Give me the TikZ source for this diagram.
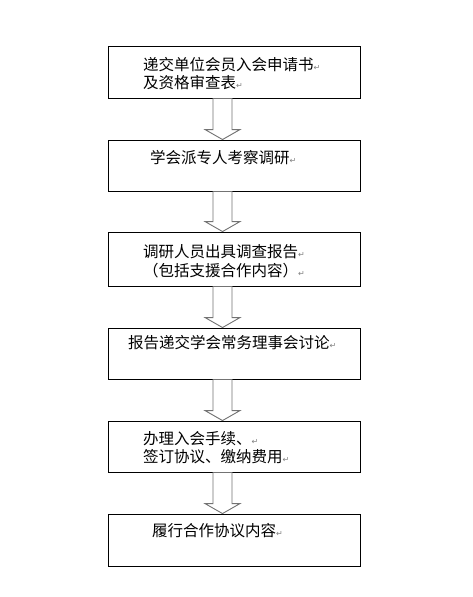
\documentclass[tikz,border=0pt]{standalone}
\usepackage{fontspec}
\newfontfamily\cjk{Noto Sans CJK SC}
\newfontfamily\symfont{DejaVu Sans}
\usetikzlibrary{calc}
\newcommand\pmark{\textcolor{gray}{\symfont\fontsize{8}{8}\selectfont ↵}}
\tikzset{
  x=1pt,y=-1pt,
  stepbox/.style={draw=black,line width=0.9pt,fill=white,minimum width=252pt,inner sep=0pt},
  txt/.style={anchor=west,inner sep=0pt,align=left,font=\cjk\fontsize{15.5}{18.5}\selectfont},
  blk/.style={draw=gray!90!black,line width=0.9pt,fill=white},
}
\newcommand\blkarrow[2]{%
  \draw[blk] let \p1=(#1.south), \p2=(#2.north), \n1={\x1-11.5pt} in
    (\n1-9.5pt,\y1) -- (\n1-9.5pt,\y2+10pt) -- (\n1-17.5pt,\y2+10pt) -- (\n1,\y2)
    -- (\n1+17.5pt,\y2+10pt) -- (\n1+9.5pt,\y2+10pt) -- (\n1+9.5pt,\y1) -- cycle;}
\begin{document}
\begin{tikzpicture}
\useasboundingbox[fill=white] (0,0) rectangle (473,597);
\node[stepbox,minimum height=52pt] (b1) at (234,72) {};
\node[stepbox,minimum height=51pt] (b2) at (234,165.5) {};
\node[stepbox,minimum height=54pt] (b3) at (234,259) {};
\node[stepbox,minimum height=51pt] (b4) at (234,353.5) {};
\node[stepbox,minimum height=51pt] (b5) at (234,446.5) {};
\node[stepbox,minimum height=52pt] (b6) at (234,540) {};
\blkarrow{b1}{b2}
\blkarrow{b2}{b3}
\blkarrow{b3}{b4}
\blkarrow{b4}{b5}
\blkarrow{b5}{b6}
\node[txt] (t1) at (143,73.5) {递交单位会员入会申请书\pmark\\及资格审查表\pmark};
\node[txt] (t2) at (150,158) {学会派专人考察调研\pmark};
\node[txt] (t3) at (143,261) {调研人员出具调查报告\pmark\\（包括支援合作内容）\pmark};
\node[txt] (t4) at (128,343) {报告递交学会常务理事会讨论\pmark};
\node[txt] (t5) at (143,447.5) {办理入会手续、\pmark\\签订协议、缴纳费用\pmark};
\node[txt] (t6) at (152,531) {履行合作协议内容\pmark};
\end{tikzpicture}
\end{document}
